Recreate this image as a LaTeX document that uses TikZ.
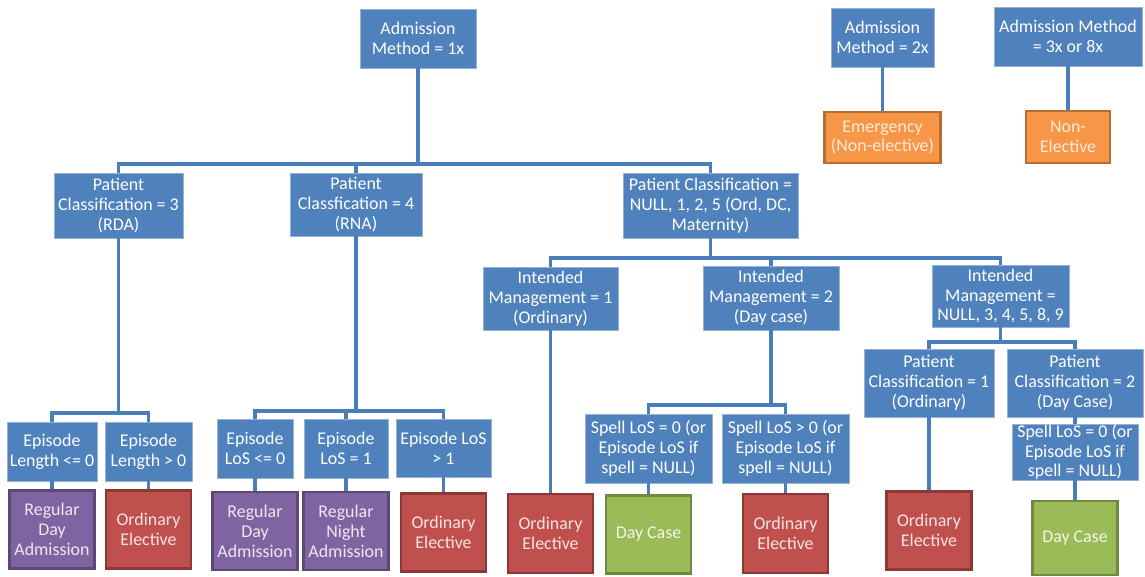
\documentclass[tikz,border=0pt]{standalone}
\usepackage{fontspec}
\setmainfont{Carlito}
\definecolor{boxblue}{HTML}{4F81BD}
\definecolor{linkblue}{HTML}{4A7EBB}
\definecolor{redfill}{HTML}{C0504D}
\definecolor{rededge}{HTML}{8C3836}
\definecolor{redtext}{HTML}{F7E4E3}
\definecolor{purplefill}{HTML}{8064A2}
\definecolor{purpleedge}{HTML}{5C4776}
\definecolor{purpletext}{HTML}{EDE8F3}
\definecolor{greenfill}{HTML}{9BBB59}
\definecolor{greenedge}{HTML}{71893F}
\definecolor{greentext}{HTML}{F1F6E6}
\definecolor{orangefill}{HTML}{F79646}
\definecolor{orangeedge}{HTML}{B66D31}
\definecolor{orangetext}{HTML}{FDEBDD}
\begin{document}
\begin{tikzpicture}[
	x=0.02cm, y=-0.02cm,
	block/.style={rectangle, fill=boxblue, draw=boxblue!60!white, line width=0.5pt, text=white, align=center, inner sep=0pt, minimum height=1.18cm, font=\fontsize{10.2}{11.3}\selectfont},
	leaf/.style={rectangle, line width=1.2pt, align=center, inner sep=0pt, minimum width=1.70cm, minimum height=1.56cm, font=\fontsize{10.2}{11.3}\selectfont},
	ordinary/.style={leaf, fill=redfill, draw=rededge, text=redtext},
	regular/.style={leaf, fill=purplefill, draw=purpleedge, text=purpletext},
	daycase/.style={leaf, fill=greenfill, draw=greenedge, text=greentext},
	nonelective/.style={leaf, fill=orangefill, draw=orangeedge, text=orangetext},
	link/.style={draw=linkblue, line width=1.8pt}
	]
	\useasboundingbox (0,0) rectangle (1145,577);
	
	% Admission methods
	\node[block, minimum width=2.32cm] (A1) at (418,38.5) {Admission\\Method = 1x};
	\node[block, minimum width=2.06cm] (A2) at (882.5,37.5) {Admission\\Method = 2x};
	\node[block, minimum width=2.96cm] (A3) at (1068,36.5) {Admission Method\\= 3x or 8x};
	\node[nonelective, minimum width=2.32cm, minimum height=1.02cm] (EM) at (882.5,137.5) {Emergency\\(Non-elective)};
	\node[nonelective, minimum width=1.68cm, minimum height=1.04cm] (NE) at (1068,137) {Non-\\Elective};
	
	% Patient classification
	\node[block, minimum width=2.58cm, minimum height=1.30cm] (PC3) at (118.5,205.5) {Patient\\Classification = 3\\(RDA)};
	\node[block, minimum width=2.64cm, minimum height=1.26cm] (PC4) at (356,204.5) {Patient\\Classfication = 4\\(RNA)};
	\node[block, minimum width=3.50cm, minimum height=1.30cm] (PCN) at (710.5,205.5) {Patient Classification =\\NULL, 1, 2, 5 (Ord, DC,\\Maternity)};
	
	% Intended management
	\node[block, minimum width=2.70cm, minimum height=1.26cm] (IM1) at (550.5,298.5) {Intended\\Management = 1\\(Ordinary)};
	\node[block, minimum width=2.72cm, minimum height=1.28cm] (IM2) at (771,298) {Intended\\Management = 2\\(Day case)};
	\node[block, minimum width=2.74cm, minimum height=1.24cm] (IM3) at (1000.5,296) {Intended\\Management =\\NULL, 3, 4, 5, 8, 9};
	\node[block, minimum width=2.60cm, minimum height=1.36cm] (PCl1) at (929,383) {Patient\\Classification = 1\\(Ordinary)};
	\node[block, minimum width=2.72cm, minimum height=1.36cm] (PCl2) at (1075,383) {Patient\\Classification = 2\\(Day Case)};
	
	% Length of stay
	\node[block, minimum width=1.80cm] (EL0) at (52,451.5) {Episode\\Length <= 0};
	\node[block, minimum width=1.74cm] (EL1) at (148.5,451.5) {Episode\\Length > 0};
	\node[block, minimum width=1.52cm] (LoS0) at (255,448.5) {Episode\\LoS <= 0};
	\node[block, minimum width=1.68cm] (LoS1) at (346,448.5) {Episode\\LoS = 1};
	\node[block, minimum width=1.90cm, minimum height=1.16cm] (LoS2) at (443.5,448) {Episode LoS\\> 1};
	\node[block, minimum width=2.54cm, minimum height=1.38cm] (SL0) at (648.5,448.5) {Spell LoS = 0 (or\\Episode LoS if\\spell = NULL)};
	\node[block, minimum width=2.54cm, minimum height=1.38cm] (SL1) at (785.5,448.5) {Spell LoS > 0 (or\\Episode LoS if\\spell = NULL)};
	\node[block, minimum width=2.52cm, minimum height=1.12cm] (SL2) at (1075,452) {Spell LoS = 0 (or\\Episode LoS if\\spell = NULL)};
	
	% Outcomes
	\node[regular] (R1) at (52,529.5) {Regular\\Day\\Admission};
	\node[ordinary] (O1) at (148.5,529.5) {Ordinary\\Elective};
	\node[regular] (R2) at (255,531) {Regular\\Day\\Admission};
	\node[regular] (R3) at (346,531) {Regular\\Night\\Admission};
	\node[ordinary] (O2) at (443.5,532.5) {Ordinary\\Elective};
	\node[ordinary, minimum height=1.58cm] (O3) at (550.5,533.5) {Ordinary\\Elective};
	\node[daycase] (D1) at (648.5,534.5) {Day Case};
	\node[ordinary, minimum height=1.58cm] (O4) at (785.5,533.5) {Ordinary\\Elective};
	\node[ordinary] (O5) at (929,530.5) {Ordinary\\Elective};
	\node[daycase, minimum height=1.48cm] (D2) at (1075,538) {Day Case};
	
	% Bus levels
	\coordinate (busA1) at (0,164);
	\coordinate (busPC3) at (0,413);
	\coordinate (busPC4) at (0,411);
	\coordinate (busPCN) at (0,258);
	\coordinate (busIM2) at (0,405);
	\coordinate (busIM3) at (0,342);
	
	% Connections
	\foreach \p/\c in {A1/PC3,A1/PC4,A1/PCN,PC3/EL0,PC3/EL1,PC4/LoS0,PC4/LoS1,PC4/LoS2,PCN/IM1,PCN/IM2,PCN/IM3,IM2/SL0,IM2/SL1,IM3/PCl1,IM3/PCl2} {
		\draw[link] (\p.south) -- (\p.south |- bus\p) -| (\c.north);
	}
	\foreach \i/\j in {A2/EM,A3/NE,EL0/R1,EL1/O1,LoS0/R2,LoS1/R3,LoS2/O2,IM1/O3,SL0/D1,SL1/O4,PCl1/O5,PCl2/SL2,SL2/D2} {
		\draw[link] (\i) -- (\j);
	}
\end{tikzpicture}
\end{document}
